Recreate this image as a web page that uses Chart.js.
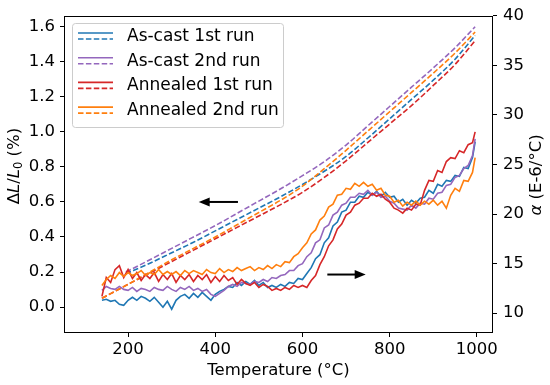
<!DOCTYPE html>
<html>
<head>
<meta charset="utf-8">
<script src="https://cdn.jsdelivr.net/npm/chart.js@4.4.0/dist/chart.umd.min.js"></script>
<style>
  html, body { margin: 0; padding: 0; background: #fff; }
  #wrap { width: 550px; height: 385px; }
</style>
</head>
<body>
<div id="wrap"><canvas id="grafico" width="550" height="385"></canvas></div>
<script>
// === DADOS ===
const seriesNames = ['As-cast 1st run', 'As-cast 2nd run', 'Annealed 1st run', 'Annealed 2nd run'];
const seriesColors = ['#1f77b4', '#9467bd', '#d62728', '#ff7f0e'];

const xTicks = [200, 400, 600, 800, 1000];
const leftTicks = [0.0, 0.2, 0.4, 0.6, 0.8, 1.0, 1.2, 1.4, 1.6];
const rightTicks = [10, 15, 20, 25, 30, 35, 40];

// temperatures for the alpha curves (°C)
const temps = [
  140, 150, 160, 170, 180, 190, 200, 210, 220, 230,
  240, 250, 260, 270, 280, 290, 300, 310, 320, 330,
  340, 350, 360, 370, 380, 390, 400, 410, 420, 430,
  440, 450, 460, 470, 480, 490, 500, 510, 520, 530,
  540, 550, 560, 570, 580, 590, 600, 610, 620, 630,
  640, 650, 660, 670, 680, 690, 700, 710, 720, 730,
  740, 750, 760, 770, 780, 790, 800, 810, 820, 830,
  840, 850, 860, 870, 880, 890, 900, 910, 920, 930,
  940, 950, 960, 970, 980, 990, 996
];

// alpha (E-6/°C), right axis
const alphaAsCast1 = [
  11.3, 11.4, 11.2, 11.3, 10.9, 10.8, 11.3, 11.6, 11.3, 11.7,
  11.5, 11.2, 11.6, 11.1, 10.6, 11.2, 10.4, 11.3, 11.7, 11.9,
  11.5, 12.0, 11.6, 12.1, 11.7, 11.3, 11.9, 12.2, 12.4, 12.7,
  12.6, 13.1, 12.8, 13.2, 12.9, 13.3, 12.8, 13.1, 12.6, 12.8,
  12.6, 12.9, 12.7, 13.1, 13.0, 13.5, 13.4, 14.0, 14.6, 15.5,
  15.9, 17.1, 17.6, 18.8, 19.2, 20.2, 20.4, 21.2, 21.2, 21.8,
  21.7, 22.2, 21.9, 22.3, 21.8, 22.2, 21.7, 21.8, 21.2, 21.5,
  20.9, 21.4, 21.1, 21.6, 21.7, 22.4, 22.1, 23.0, 22.8, 23.4,
  23.3, 23.9, 23.8, 24.7, 24.6, 25.7, 27.3
];
const alphaAsCast2 = [
  12.3, 12.7, 12.5, 12.4, 12.7, 12.4, 12.3, 12.6, 12.2, 12.5,
  12.4, 12.2, 12.6, 12.4, 12.3, 12.7, 12.4, 12.2, 12.6, 12.4,
  12.7, 12.3, 12.5, 12.2, 12.4, 11.9, 11.7, 12.0, 12.3, 12.7,
  12.9, 12.7, 13.1, 13.0, 12.9, 13.2, 13.1, 13.4, 13.2, 13.6,
  13.5, 13.8, 13.9, 14.3, 14.3, 14.8, 15.0, 15.7, 16.1, 17.1,
  17.4, 18.6, 18.9, 19.9, 20.2, 20.9, 21.1, 21.7, 21.7, 22.1,
  22.0, 22.4, 21.9, 22.2, 21.7, 21.8, 21.3, 21.1, 20.6, 20.5,
  20.4, 20.9, 20.6, 21.1, 21.0, 21.6, 21.5, 22.1, 22.2, 22.9,
  23.0, 23.7, 23.9, 24.6, 24.9, 25.9, 27.6
];
const alphaAnnealed1 = [
  11.7, 13.6, 13.1, 14.4, 14.8, 13.6, 14.4, 13.5, 14.1, 13.3,
  13.9, 13.5, 14.1, 13.2, 13.9, 13.4, 14.0, 13.1, 13.8, 13.4,
  13.9, 13.2, 13.8, 13.4, 13.9, 13.1, 13.7, 13.2, 13.8, 13.3,
  13.6, 12.9, 13.4, 13.0, 12.8, 13.1, 12.6, 12.9, 12.7, 12.3,
  12.5, 12.3, 12.6, 12.4, 12.8, 12.6, 12.8, 12.6, 13.3, 13.8,
  14.9, 15.7, 16.8, 17.4, 18.5, 19.0, 19.9, 20.2, 20.9, 21.1,
  21.6, 21.6, 22.1, 21.8, 22.0, 21.5, 21.2, 20.6, 20.4, 20.1,
  20.6, 20.4, 21.0, 20.9, 22.4, 23.4, 23.3, 24.4, 24.2, 25.3,
  25.7, 25.6, 26.4, 26.2, 27.0, 27.2, 28.3
];
const alphaAnnealed2 = [
  12.8, 13.4, 13.8, 13.5, 14.1, 13.7, 14.1, 13.8, 14.0, 14.3,
  13.8, 14.1, 13.9, 14.4, 13.9, 14.2, 13.9, 14.2, 13.8, 14.3,
  14.0, 14.3, 14.1, 13.9, 14.4, 14.1, 14.0, 14.5, 14.1, 14.4,
  14.2, 14.6, 14.3, 14.5, 14.7, 14.3, 14.6, 14.4, 14.8, 14.5,
  14.9, 14.7, 15.2, 15.1, 15.7, 16.0, 16.6, 17.1, 18.0, 18.4,
  19.4, 19.8, 20.7, 21.0, 21.9, 22.0, 22.6, 22.5, 23.1, 22.8,
  23.2, 22.8, 23.0, 22.4, 22.6, 21.9, 21.8, 21.2, 21.4, 20.8,
  21.2, 20.9, 21.3, 20.9, 21.3, 21.0, 21.4, 20.9, 21.3, 20.6,
  21.9, 22.6, 22.3, 23.4, 23.3, 24.2, 25.7
];

// dilatation dL/L0 (%), left axis
const dilTempsAsCast = [195, 250, 300, 350, 400, 450, 500, 550, 600, 650, 700, 750, 800, 850, 900, 950, 996];
const dilTempsAnnealed = [140, 200, 250, 300, 350, 400, 450, 500, 550, 600, 650, 700, 750, 800, 850, 900, 950, 996];
const dilAsCast1 = [0.19, 0.25, 0.31, 0.37, 0.435, 0.50, 0.565, 0.63, 0.70, 0.775, 0.86, 0.965, 1.075, 1.185, 1.295, 1.415, 1.55];
const dilAsCast2 = [0.20, 0.27, 0.335, 0.40, 0.465, 0.535, 0.605, 0.675, 0.75, 0.83, 0.925, 1.035, 1.145, 1.255, 1.365, 1.48, 1.60];
const dilAnnealed1 = [0.05, 0.13, 0.195, 0.26, 0.325, 0.39, 0.455, 0.52, 0.585, 0.655, 0.74, 0.835, 0.94, 1.045, 1.15, 1.265, 1.385, 1.52];
const dilAnnealed2 = [0.05, 0.13, 0.20, 0.27, 0.335, 0.40, 0.47, 0.54, 0.61, 0.69, 0.79, 0.895, 1.005, 1.115, 1.225, 1.335, 1.45, 1.57];

const FONT = '"DejaVu Sans", sans-serif';

function pontos(xs, ys) {
  return xs.map((x, i) => ({ x: x, y: ys[i] }));
}

const alphaSeries = [alphaAsCast1, alphaAsCast2, alphaAnnealed1, alphaAnnealed2];
const dilSeries = [
  pontos(dilTempsAsCast, dilAsCast1),
  pontos(dilTempsAsCast, dilAsCast2),
  pontos(dilTempsAnnealed, dilAnnealed1),
  pontos(dilTempsAnnealed, dilAnnealed2)
];

const datasets = [];
// solid alpha curves on top (lower order = drawn later)
alphaSeries.forEach((vals, i) => {
  datasets.push({
    label: seriesNames[i],
    data: pontos(temps, vals),
    yAxisID: 'y1',
    borderColor: seriesColors[i],
    borderWidth: 1.6,
    pointRadius: 0,
    tension: 0,
    order: 4 - i
  });
});
dilSeries.forEach((pts, i) => {
  datasets.push({
    label: seriesNames[i] + ' dL',
    data: pts,
    yAxisID: 'y',
    borderColor: seriesColors[i],
    borderWidth: 1.6,
    borderDash: [5.5, 2.4],
    pointRadius: 0,
    cubicInterpolationMode: 'monotone',
    order: 8 - i
  });
});

// === DESENHOS EXTRA: moldura, legenda, setas, titulos ===
function textoMisto(ctx, partes, cx, cy, rot) {
  ctx.save();
  ctx.translate(cx, cy);
  ctx.rotate(rot);
  ctx.textBaseline = 'middle';
  ctx.textAlign = 'left';
  let total = 0;
  partes.forEach(p => { ctx.font = p.f; p.w = ctx.measureText(p.t).width; total += p.w; });
  let x = -total / 2;
  partes.forEach(p => {
    ctx.font = p.f;
    ctx.fillText(p.t, x, p.dy || 0);
    x += p.w;
  });
  ctx.restore();
}

function seta(ctx, xTail, xHead, y) {
  const dir = xHead > xTail ? 1 : -1;
  ctx.save();
  ctx.strokeStyle = '#000';
  ctx.fillStyle = '#000';
  ctx.lineWidth = 2;
  ctx.beginPath();
  ctx.moveTo(xTail, y);
  ctx.lineTo(xHead - dir * 8, y);
  ctx.stroke();
  ctx.beginPath();
  ctx.moveTo(xHead, y);
  ctx.lineTo(xHead - dir * 11, y - 4.5);
  ctx.lineTo(xHead - dir * 11, y + 4.5);
  ctx.closePath();
  ctx.fill();
  ctx.restore();
}

const extras = {
  id: 'extras',
  afterDraw(chart) {
    const { ctx, chartArea: a, scales } = chart;
    ctx.save();
    ctx.strokeStyle = '#000';
    ctx.lineWidth = 1;
    ctx.strokeRect(Math.round(a.left) + 0.5, Math.round(a.top) + 0.5,
      Math.round(a.right - a.left) - 1, Math.round(a.bottom - a.top) - 1);

    // arrows
    seta(ctx, scales.x.getPixelForValue(452), scales.x.getPixelForValue(362), scales.y.getPixelForValue(0.6));
    seta(ctx, scales.x.getPixelForValue(657), scales.x.getPixelForValue(745), scales.y1.getPixelForValue(13.9));

    // legend
    const lx = 72.5, ly = 23.5, lw = 211, lh = 104;
    ctx.fillStyle = 'rgba(255,255,255,0.8)';
    ctx.strokeStyle = '#cccccc';
    ctx.lineWidth = 1;
    ctx.beginPath();
    ctx.roundRect(lx, ly, lw, lh, 3);
    ctx.fill();
    ctx.stroke();
    ctx.font = '17px ' + FONT;
    ctx.textBaseline = 'middle';
    ctx.textAlign = 'left';
    seriesNames.forEach((nome, i) => {
      const yc = 36.5 + i * 24.7;
      ctx.strokeStyle = seriesColors[i];
      ctx.lineWidth = 1.6;
      ctx.setLineDash([]);
      ctx.beginPath();
      ctx.moveTo(78, yc - 3.5);
      ctx.lineTo(113, yc - 3.5);
      ctx.stroke();
      ctx.setLineDash([5.5, 2.4]);
      ctx.beginPath();
      ctx.moveTo(78, yc + 2.5);
      ctx.lineTo(113, yc + 2.5);
      ctx.stroke();
      ctx.setLineDash([]);
      ctx.fillStyle = '#000';
      ctx.fillText(nome, 127, yc);
    });

    // axis titles
    ctx.fillStyle = '#000';
    const reg = '16.5px ' + FONT, ita = 'italic 16.5px ' + FONT, sub = '11.5px ' + FONT;
    textoMisto(ctx, [{ t: 'Temperature (°C)', f: reg }], (a.left + a.right) / 2, 371, 0);
    textoMisto(ctx, [
      { t: 'Δ', f: reg }, { t: 'L', f: ita }, { t: '/', f: reg }, { t: 'L', f: ita },
      { t: '0', f: sub, dy: 4 }, { t: ' (%)', f: reg }
    ], 15, 166, -Math.PI / 2);
    textoMisto(ctx, [{ t: 'α', f: ita }, { t: ' (E-6/°C)', f: reg }], 537, 175, -Math.PI / 2);
    ctx.restore();
  }
};

const tickFont = { family: FONT, size: 16.5 };
const gridOpts = { drawOnChartArea: false, drawTicks: true, tickLength: 4, color: '#000' };

new Chart(document.getElementById('grafico').getContext('2d'), {
  type: 'line',
  data: { datasets: datasets },
  options: {
    responsive: false,
    animation: false,
    devicePixelRatio: 1,
    layout: { padding: { top: 14, left: 0, right: 0, bottom: 0 } },
    plugins: { legend: { display: false }, tooltip: { enabled: false } },
    scales: {
      x: {
        type: 'linear',
        min: 53,
        max: 1037,
        grid: gridOpts,
        border: { display: false },
        ticks: { font: tickFont, color: '#000', padding: 3, maxRotation: 0, autoSkip: false, callback: v => String(v) },
        afterBuildTicks: axis => { axis.ticks = xTicks.map(v => ({ value: v })); },
        afterFit: axis => { axis.height = 52; }
      },
      y: {
        position: 'left',
        min: -0.148,
        max: 1.662,
        grid: gridOpts,
        border: { display: false },
        ticks: { font: tickFont, color: '#000', padding: 5, callback: v => v.toFixed(1) },
        afterBuildTicks: axis => { axis.ticks = leftTicks.map(v => ({ value: v })); },
        afterFit: axis => { axis.width = 64; }
      },
      y1: {
        position: 'right',
        min: 8,
        max: 40,
        grid: gridOpts,
        border: { display: false },
        ticks: { font: tickFont, color: '#000', padding: 6, callback: v => String(v) },
        afterBuildTicks: axis => { axis.ticks = rightTicks.map(v => ({ value: v })); },
        afterFit: axis => { axis.width = 57; }
      }
    }
  },
  plugins: [extras]
});
</script>
</body>
</html>
